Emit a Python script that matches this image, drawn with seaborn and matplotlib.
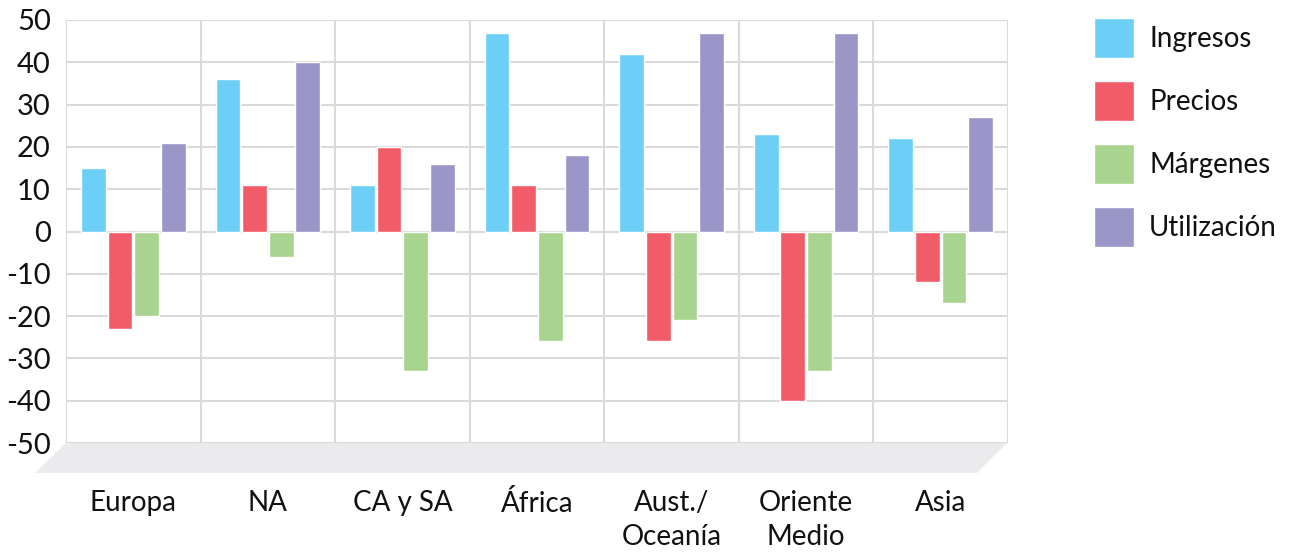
import matplotlib
matplotlib.use("Agg")
import matplotlib.pyplot as plt
from matplotlib.patches import Polygon
import pandas as pd
import seaborn as sns

# Regional change figures (%) by indicator
regions = ["Europa", "NA", "CA y SA", "África", "Aust./\nOceanía", "Oriente\nMedio", "Asia"]
ingresos = [15, 36, 11, 47, 42, 23, 22]
precios = [-23, 11, 20, 11, -26, -40, -12]
margenes = [-20, -6, -33, -26, -21, -33, -17]
utilizacion = [21, 40, 16, 18, 47, 47, 27]
series_names = ["Ingresos", "Precios", "Márgenes", "Utilización"]
series_colors = ["#6DCFF6", "#F05C67", "#A9D490", "#9A96C8"]
y_ticks = [50, 40, 30, 20, 10, 0, -10, -20, -30, -40, -50]

sns.set_theme(style="white")
plt.rcParams["font.family"] = ["Lato", "DejaVu Sans"]

rows = []
for name, values in zip(series_names, [ingresos, precios, margenes, utilizacion]):
    for region, v in zip(regions, values):
        rows.append({"Región": region, "Serie": name, "Valor": v})
df = pd.DataFrame(rows)

fig = plt.figure(figsize=(12.93, 5.53), dpi=100)
ax = fig.add_axes([66 / 1293, 1 - 443 / 553, 942 / 1293, 423 / 553])

sns.barplot(
    data=df, x="Región", y="Valor", hue="Serie",
    order=regions, hue_order=series_names, palette=series_colors,
    saturation=1, width=0.79, gap=0.07, errorbar=None, ax=ax,
)

ax.set_xlim(-0.5, len(regions) - 0.5)
ax.set_ylim(-50, 50)
ax.set_xlabel("")
ax.set_ylabel("")
for s in ax.spines.values():
    s.set_visible(False)

# grid: horizontal lines at every tick, vertical separators between regions
ax.set_yticks(y_ticks)
ax.set_yticklabels([str(v) for v in y_ticks])
ax.set_xticks([i - 0.5 for i in range(len(regions) + 1)], minor=True)
ax.set_axisbelow(True)
ax.yaxis.grid(True, color="#DADADA", lw=1.5)
ax.xaxis.grid(True, which="minor", color="#DADADA", lw=1.5)
ax.xaxis.grid(False, which="major")
ax.tick_params(axis="y", length=0, pad=11, labelsize=21, labelcolor="#111111")
ax.tick_params(axis="x", which="both", length=0, pad=34, labelsize=20, labelcolor="#111111")
for lbl in ax.get_xticklabels():
    lbl.set_linespacing(1.35)

# grey floor under the plot
floor = Polygon(
    [(0, 0), (0.999, 0), (0.967, -30 / 423), (-31 / 942, -30 / 423)],
    closed=True, transform=ax.transAxes, clip_on=False,
    facecolor="#EBEBED", edgecolor="none", zorder=0,
)
ax.add_patch(floor)

handles, labels = ax.get_legend_handles_labels()
leg = ax.legend(
    handles, labels, loc="upper left",
    bbox_to_anchor=(1094 / 1293, 1 - 18 / 553), bbox_transform=fig.transFigure,
    frameon=False, fontsize=20, handlelength=1.44, handleheight=1.84,
    handletextpad=0.54, labelspacing=0.83, borderpad=0, borderaxespad=0,
)
for t in leg.get_texts():
    t.set_color("#111111")

fig.savefig("out.png", dpi=100)
